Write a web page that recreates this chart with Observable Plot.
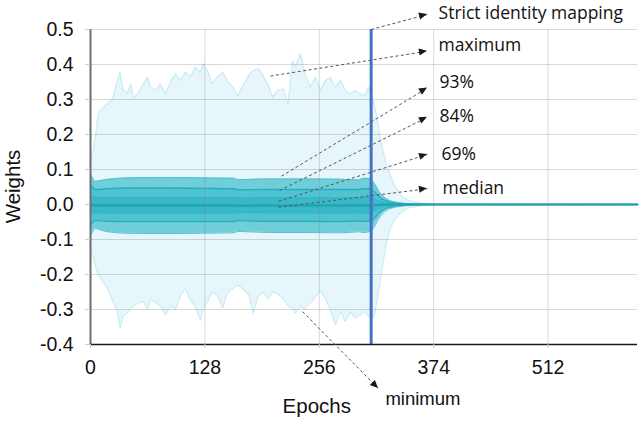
<!DOCTYPE html>
<html><head><meta charset="utf-8">
<script src="https://cdn.jsdelivr.net/npm/d3@7"></script>
<script src="https://cdn.jsdelivr.net/npm/@observablehq/plot@0.6"></script>
<style>body{margin:0;background:#fff}</style>
</head><body><div id="chart"></div>
<script>
// ---- data ----
const xTicks = [0, 128, 256, 384, 512];
const xTickLabels = ["0", "128", "256", "374", "512"];
const yTicks = [-0.4, -0.3, -0.2, -0.1, 0.0, 0.1, 0.2, 0.3, 0.4, 0.5];
const identityEpoch = 314;

const envEpochs = [0,3,6,8,11,15,19,25,30,33,36,41,45,48,53,59,64,67,73,78,84,90,95,101,106,112,117,123,126,131,136,142,148,153,159,165,171,177,182,188,193,199,204,209,216,221,226,229,235,240,246,252,257,263,268,274,280,285,291,296,302,307,311,315,318,321,324,327,330,333,336,340,345,350,358,370,390,612];
const maxVals = [0.13,0.154,0.2,0.25,0.27,0.278,0.288,0.302,0.354,0.378,0.33,0.316,0.345,0.306,0.316,0.345,0.364,0.335,0.326,0.345,0.316,0.354,0.373,0.354,0.378,0.364,0.392,0.378,0.402,0.383,0.345,0.364,0.378,0.354,0.335,0.311,0.34,0.369,0.383,0.388,0.369,0.34,0.306,0.326,0.33,0.288,0.41,0.392,0.43,0.374,0.335,0.364,0.326,0.354,0.364,0.335,0.354,0.326,0.316,0.326,0.316,0.311,0.335,0.306,0.28,0.24,0.19,0.155,0.125,0.1,0.08,0.055,0.035,0.02,0.01,0.004,0.001,0];
const minVals = [-0.13,-0.15,-0.18,-0.195,-0.21,-0.225,-0.24,-0.277,-0.306,-0.355,-0.32,-0.31,-0.296,-0.29,-0.282,-0.277,-0.30,-0.27,-0.28,-0.29,-0.314,-0.29,-0.30,-0.26,-0.24,-0.275,-0.29,-0.33,-0.30,-0.277,-0.25,-0.26,-0.296,-0.253,-0.24,-0.23,-0.243,-0.257,-0.31,-0.26,-0.25,-0.27,-0.25,-0.255,-0.27,-0.29,-0.295,-0.31,-0.29,-0.30,-0.28,-0.263,-0.245,-0.27,-0.30,-0.343,-0.305,-0.334,-0.306,-0.325,-0.315,-0.306,-0.32,-0.33,-0.31,-0.27,-0.22,-0.17,-0.125,-0.09,-0.065,-0.045,-0.028,-0.017,-0.008,-0.003,-0.001,0];

const bandEpochs = [0, 2, 5, 10, 20, 40, 80, 128, 160, 165, 200, 240, 280, 300, 305, 313, 316, 320, 324, 330, 336, 345, 360, 380, 612];
const p93Hi = [0.085, 0.078, 0.066, 0.068, 0.072, 0.076, 0.077, 0.076, 0.075, 0.071, 0.073, 0.073, 0.072, 0.070, 0.075, 0.074, 0.066, 0.050, 0.033, 0.018, 0.010, 0.005, 0.002, 0.0005, 0];
const p93Lo = [-0.088, -0.080, -0.068, -0.072, -0.078, -0.082, -0.083, -0.082, -0.081, -0.077, -0.080, -0.080, -0.081, -0.078, -0.080, -0.077, -0.070, -0.052, -0.035, -0.019, -0.011, -0.006, -0.002, -0.0005, 0];
const p84Hi = [0.054, 0.050, 0.043, 0.043, 0.045, 0.047, 0.047, 0.046, 0.045, 0.042, 0.043, 0.043, 0.043, 0.043, 0.045, 0.045, 0.040, 0.030, 0.020, 0.011, 0.006, 0.003, 0.001, 0.0003, 0];
const p84Lo = [-0.058, -0.052, -0.045, -0.046, -0.048, -0.049, -0.049, -0.049, -0.049, -0.046, -0.048, -0.048, -0.049, -0.047, -0.048, -0.047, -0.042, -0.032, -0.021, -0.012, -0.007, -0.003, -0.001, -0.0003, 0];
const p69Hi = [0.025, 0.022, 0.020, 0.020, 0.020, 0.020, 0.020, 0.020, 0.020, 0.018, 0.019, 0.019, 0.019, 0.019, 0.020, 0.020, 0.018, 0.013, 0.009, 0.005, 0.003, 0.0015, 0.0005, 0.0001, 0];
const p69Lo = [-0.028, -0.026, -0.024, -0.024, -0.025, -0.025, -0.025, -0.025, -0.025, -0.023, -0.024, -0.024, -0.025, -0.024, -0.025, -0.024, -0.021, -0.016, -0.011, -0.006, -0.0035, -0.0017, -0.0006, -0.0001, 0];
const medianVals = [-0.002, -0.002, -0.003, -0.003, -0.003, -0.003, -0.003, -0.003, -0.003, -0.004, -0.003, -0.003, -0.003, -0.003, -0.003, -0.003, -0.002, -0.002, -0.001, -0.001, 0, 0, 0, 0, 0];

const annLabels = ["Strict identity mapping", "maximum", "93%", "84%", "69%", "median", "minimum"];
const annFromEpoch = [314, 201.4, 213.7, 211.5, 210.3, 210.3, 237.2];
const annFromWeight = [0.5, 0.367, 0.081, 0.04, 0.009, -0.008, -0.306];
const annToEpoch = [377, 377, 377, 377, 377, 377, 322.2];
const annToWeight = [0.543, 0.438, 0.333, 0.249, 0.143, 0.045, -0.526];
const annTextEpoch = [389.4, 389.4, 390.5, 390.5, 392.7, 393.8, 330];
const annTextWeight = [0.546, 0.456, 0.349, 0.251, 0.142, 0.045, -0.555];

// ---- tables built from the arrays ----
const env = envEpochs.map((e, i) => ({epoch: e, max: maxVals[i], min: minVals[i]}));
const bands = bandEpochs.map((e, i) => ({epoch: e, p93Hi: p93Hi[i], p93Lo: p93Lo[i], p84Hi: p84Hi[i], p84Lo: p84Lo[i], p69Hi: p69Hi[i], p69Lo: p69Lo[i], median: medianVals[i]}));
const ann = annLabels.map((label, i) => ({label, x1: annFromEpoch[i], y1: annFromWeight[i], x2: annToEpoch[i], y2: annToWeight[i], tx: annTextEpoch[i], ty: annTextWeight[i]}));
const xLabelOf = new Map(xTicks.map((t, i) => [t, xTickLabels[i]]));

const bandLine = (key, stroke, w) => Plot.lineY(bands, {x: "epoch", y: key, stroke, strokeWidth: w, curve: "monotone-x"});

const chart = Plot.plot({
  width: 640, height: 422,
  marginLeft: 90, marginRight: 3, marginTop: 29, marginBottom: 78,
  style: {fontFamily: "Liberation Sans", fontSize: "19.5px", color: "#111", background: "#fff", overflow: "visible"},
  x: {domain: [0, 612]},
  y: {domain: [-0.4, 0.5]},
  marks: [
    Plot.areaY(env, {x: "epoch", y1: "min", y2: "max", fill: "#e6f6fa"}),
    Plot.lineY(env, {x: "epoch", y: "max", stroke: "#c9ecf4", strokeWidth: 1.2}),
    Plot.lineY(env, {x: "epoch", y: "min", stroke: "#c9ecf4", strokeWidth: 1.2}),
    Plot.areaY(bands, {x: "epoch", y1: "p93Lo", y2: "p93Hi", fill: "#70cedb", curve: "monotone-x"}),
    Plot.areaY(bands, {x: "epoch", y1: "p84Lo", y2: "p84Hi", fill: "#50c3d2", curve: "monotone-x"}),
    Plot.areaY(bands, {x: "epoch", y1: "p69Lo", y2: "p69Hi", fill: "#38b9c9", curve: "monotone-x"}),
    bandLine("p93Hi", "#4fc3d1", 1),
    bandLine("p93Lo", "#4fc3d1", 1),
    bandLine("p84Hi", "#27adbf", 1.4),
    bandLine("p84Lo", "#27adbf", 1.4),
    bandLine("p69Hi", "#30b3c4", 1),
    bandLine("p69Lo", "#30b3c4", 1),
    bandLine("median", "#18a8ba", 2.2),
    Plot.gridX(xTicks.slice(1), {stroke: "#777", strokeOpacity: 0.28}),
    Plot.gridY(yTicks, {stroke: "#777", strokeOpacity: 0.28}),
    Plot.ruleX([identityEpoch], {y1: 0.5, y2: -0.4, stroke: "#4472c4", strokeWidth: 3}),
    Plot.ruleX([0], {stroke: "#6e6e6e", strokeWidth: 2}),
    Plot.ruleY([-0.4], {stroke: "#1a1a1a", strokeWidth: 1.5}),
    Plot.axisX(xTicks, {tickSize: 4, tickPadding: 12, tickFormat: d => xLabelOf.get(d), label: null, stroke: "#cfcfcf", fill: "#111"}),
    Plot.axisY(yTicks, {tickSize: 5, tickPadding: 12, tickFormat: d => d.toFixed(1), label: null, stroke: "#cfcfcf", fill: "#111"}),
    Plot.link(ann, {x1: "x1", y1: "y1", x2: "x2", y2: "y2", stroke: "#555", strokeWidth: 1, strokeDasharray: "3,2.5"}),
    Plot.text(ann.slice(0, 6), {x: "tx", y: "ty", text: "label", textAnchor: "start", fontFamily: "Open Sans", fontSize: 17.5, fill: "#111"}),
    Plot.text(ann.slice(6), {x: "tx", y: "ty", text: "label", textAnchor: "start", fontFamily: "Liberation Sans", fontSize: 18.5, fill: "#111"})
  ]
});

// arrowheads placed through the chart's own scales
const sx = chart.scale("x"), sy = chart.scale("y");
const svg = d3.select(chart);
const heads = svg.append("g").attr("fill", "#1a1a1a");
ann.forEach(a => {
  const x1 = sx.apply(a.x1), y1 = sy.apply(a.y1), x2 = sx.apply(a.x2), y2 = sy.apply(a.y2);
  const ang = Math.atan2(y2 - y1, x2 - x1) * 180 / Math.PI;
  heads.append("path").attr("d", "M0,0L-8,-3.6L-8,3.6Z").attr("transform", `translate(${x2},${y2}) rotate(${ang})`);
});

// axis titles
svg.append("text").attr("x", sx.apply(256) - 2).attr("y", 413).attr("text-anchor", "middle")
  .attr("font-family", "Liberation Sans").attr("font-size", 20.5).attr("fill", "#111").text("Epochs");
svg.append("text").attr("transform", `translate(20,${sy.apply(0.05)}) rotate(-90)`).attr("text-anchor", "middle")
  .attr("font-family", "Liberation Sans").attr("font-size", 20.5).attr("fill", "#111").text("Weights");

document.getElementById("chart").append(chart);
</script>
</body></html>
